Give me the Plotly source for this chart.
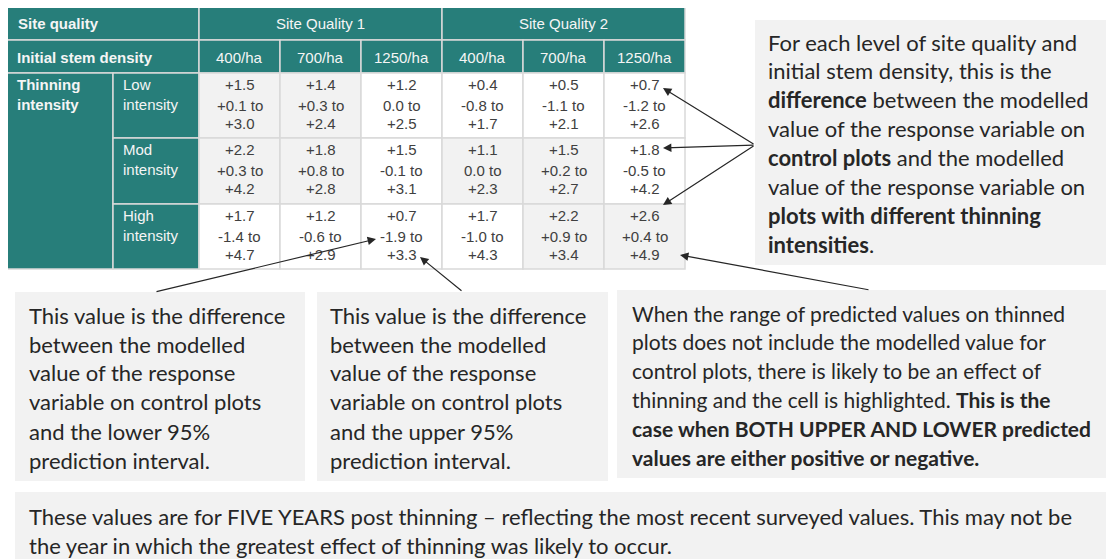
import plotly.graph_objects as go

# table data
SITE_QUALITIES = ['Site Quality 1', 'Site Quality 2']
DENSITIES = ['400/ha', '700/ha', '1250/ha']
INTENSITIES = ['Low', 'Mod', 'High']
DIFF = [[1.5, 1.4, 1.2, 0.4, 0.5, 0.7],
        [2.2, 1.8, 1.5, 1.1, 1.5, 1.8],
        [1.7, 1.2, 0.7, 1.7, 2.2, 2.6]]
LOWER = [[0.1, 0.3, 0.0, -0.8, -1.1, -1.2],
         [0.3, 0.8, -0.1, 0.0, 0.2, -0.5],
         [-1.4, -0.6, -1.9, -1.0, 0.9, 0.4]]
UPPER = [[3.0, 2.4, 2.5, 1.7, 2.1, 2.6],
         [4.2, 2.8, 3.1, 2.3, 2.7, 4.2],
         [4.7, 2.9, 3.3, 4.3, 3.4, 4.9]]
HIGHLIGHT = [[1, 1, 0, 0, 0, 0],
             [1, 1, 0, 1, 1, 0],
             [0, 0, 0, 0, 1, 1]]

# notes
RIGHT_NOTE = ['For each level of site quality and',
              'initial stem density, this is the',
              '<b>difference</b> between the modelled',
              'value of the response variable on',
              '<b>control plots</b> and the modelled',
              'value of the response variable on',
              '<b>plots with different thinning</b>',
              '<b>intensities</b>.']
LOWER_NOTE = ['This value is the difference', 'between the modelled', 'value of the response',
              'variable on control plots', 'and the lower 95%', 'prediction interval.']
UPPER_NOTE = ['This value is the difference', 'between the modelled', 'value of the response',
              'variable on control plots', 'and the upper 95%', 'prediction interval.']
EFFECT_NOTE = ['When the range of predicted values on thinned',
               'plots does not include the modelled value for',
               'control plots, there is likely to be an effect of',
               'thinning and the cell is highlighted. <b>This is the</b>',
               '<b>case when BOTH UPPER AND LOWER predicted</b>',
               '<b>values are either positive or negative.</b>']
YEAR_NOTE = ['These values are for FIVE YEARS post thinning \u2013 reflecting the most recent surveyed values. This may not be',
             'the year in which the greatest effect of thinning was likely to occur.']

TEAL = '#277E7A'
GRID = '#D9D9D9'
HEAD_TXT = '#F5F5F5'
CELL_TXT = '#404040'
NOTE_BG = '#F2F2F2'
NOTE_TXT = '#262626'
TFONT = 'Liberation Sans, Arial, sans-serif'
NFONT = 'Lato, Open Sans, sans-serif'
NSIZE = 22

COL_X = [199, 280, 361, 442, 523, 604, 685]
ROW_Y = [73, 138, 204, 269]

# page body has an 8px margin, so the plot area starts at pixel 8
PAD = 8
W, H = 1114, 559


def fmt(v):
    if v == 0:
        return '0.0'
    return f'{v:+.1f}'


fig = go.Figure()
shapes = []
annotations = []


def rect(x0, y0, x1, y1, fill, line=GRID, lw=1.5):
    shapes.append(dict(type='rect', xref='x', yref='y', x0=x0, y0=y0, x1=x1, y1=y1,
                       fillcolor=fill, line=dict(color=line, width=lw), layer='below'))


def text(x, y, s, size=15, color=CELL_TXT, xanchor='center', yanchor='middle', font=TFONT):
    annotations.append(dict(x=x, y=y, xref='x', yref='y', text=s, showarrow=False,
                            xanchor=xanchor, yanchor=yanchor, align='left' if xanchor == 'left' else 'center',
                            font=dict(family=font, size=size, color=color)))


# header rows
rect(7, 6, 199, 40, TEAL)
text(16, 23, '<b>Site quality</b>', color=HEAD_TXT, xanchor='left')
for i, sq in enumerate(SITE_QUALITIES):
    x0, x1 = COL_X[i * 3], COL_X[i * 3 + 3]
    rect(x0, 6, x1, 40, TEAL)
    text((x0 + x1) / 2, 23, sq, color=HEAD_TXT)
rect(7, 40, 199, 73, TEAL)
text(15, 57, '<b>Initial stem density</b>', color=HEAD_TXT, xanchor='left')
for j in range(6):
    x0, x1 = COL_X[j], COL_X[j + 1]
    rect(x0, 40, x1, 73, TEAL)
    text((x0 + x1) / 2, 57, DENSITIES[j % 3], color=HEAD_TXT)

# row labels
rect(7, 73, 113, 269, TEAL)
text(15, 74, '<b>Thinning<br>intensity</b>', color=HEAD_TXT, xanchor='left', yanchor='top')
for r, lab in enumerate(INTENSITIES):
    y0, y1 = ROW_Y[r], ROW_Y[r + 1]
    rect(113, y0, 199, y1, TEAL)
    text(121, y0 + 1, f'{lab}<br>intensity', color=HEAD_TXT, xanchor='left', yanchor='top')

# value cells
for r in range(3):
    y0, y1 = ROW_Y[r], ROW_Y[r + 1]
    for j in range(6):
        x0, x1 = COL_X[j], COL_X[j + 1]
        rect(x0, y0, x1, y1, '#F2F2F2' if HIGHLIGHT[r][j] else 'white')
        cx = (x0 + x1) / 2
        text(cx, y0 + 11, fmt(DIFF[r][j]))
        text(cx, y0 + 32, f'{fmt(LOWER[r][j])} to')
        text(cx, y0 + 50, fmt(UPPER[r][j]))


# note boxes
def note(x0, y0, x1, y1, tx, lines, ys, size=NSIZE):
    rect(x0, y0, x1, y1, NOTE_BG, line=NOTE_BG, lw=0)
    for s, y in zip(lines, ys):
        text(tx, y, s, size=size, color=NOTE_TXT, xanchor='left', font=NFONT)


note(755, 20, 1113, 265, 766, RIGHT_NOTE, [42, 70, 99, 128, 157, 186, 215, 244])
note(15, 292, 305, 481, 27, LOWER_NOTE, [315, 344, 372, 401, 431, 460])
note(317, 292, 608, 481, 328, UPPER_NOTE, [315, 344, 372, 401, 431, 460])
note(617, 290, 1113, 478, 630, EFFECT_NOTE, [313, 341, 370, 399, 428, 457], size=21)
note(15, 492, 1113, 570, 27, YEAR_NOTE, [516, 545])


# arrows: (head x, head y, tail x, tail y)
def arrow(hx, hy, tx, ty):
    annotations.append(dict(x=hx, y=hy, ax=tx, ay=ty, xref='x', yref='y', axref='x', ayref='y',
                            text='', showarrow=True, arrowhead=2, arrowsize=1.4, arrowwidth=1.2,
                            arrowcolor='#262626', standoff=0))


arrow(663, 88, 755, 145)
arrow(663, 148, 755, 145)
arrow(663, 205, 755, 145)
arrow(680, 255, 870, 290)
arrow(376, 239, 155, 292)
arrow(420, 257, 463, 292)

fig.update_layout(
    width=W - PAD, height=H - PAD,
    margin=dict(l=0, r=0, t=0, b=0),
    paper_bgcolor='white', plot_bgcolor='white',
    xaxis=dict(range=[PAD, W], visible=False, fixedrange=True),
    yaxis=dict(range=[H, PAD], visible=False, fixedrange=True),
    shapes=shapes, annotations=annotations,
    showlegend=False,
)

fig.write_html('out.html')
